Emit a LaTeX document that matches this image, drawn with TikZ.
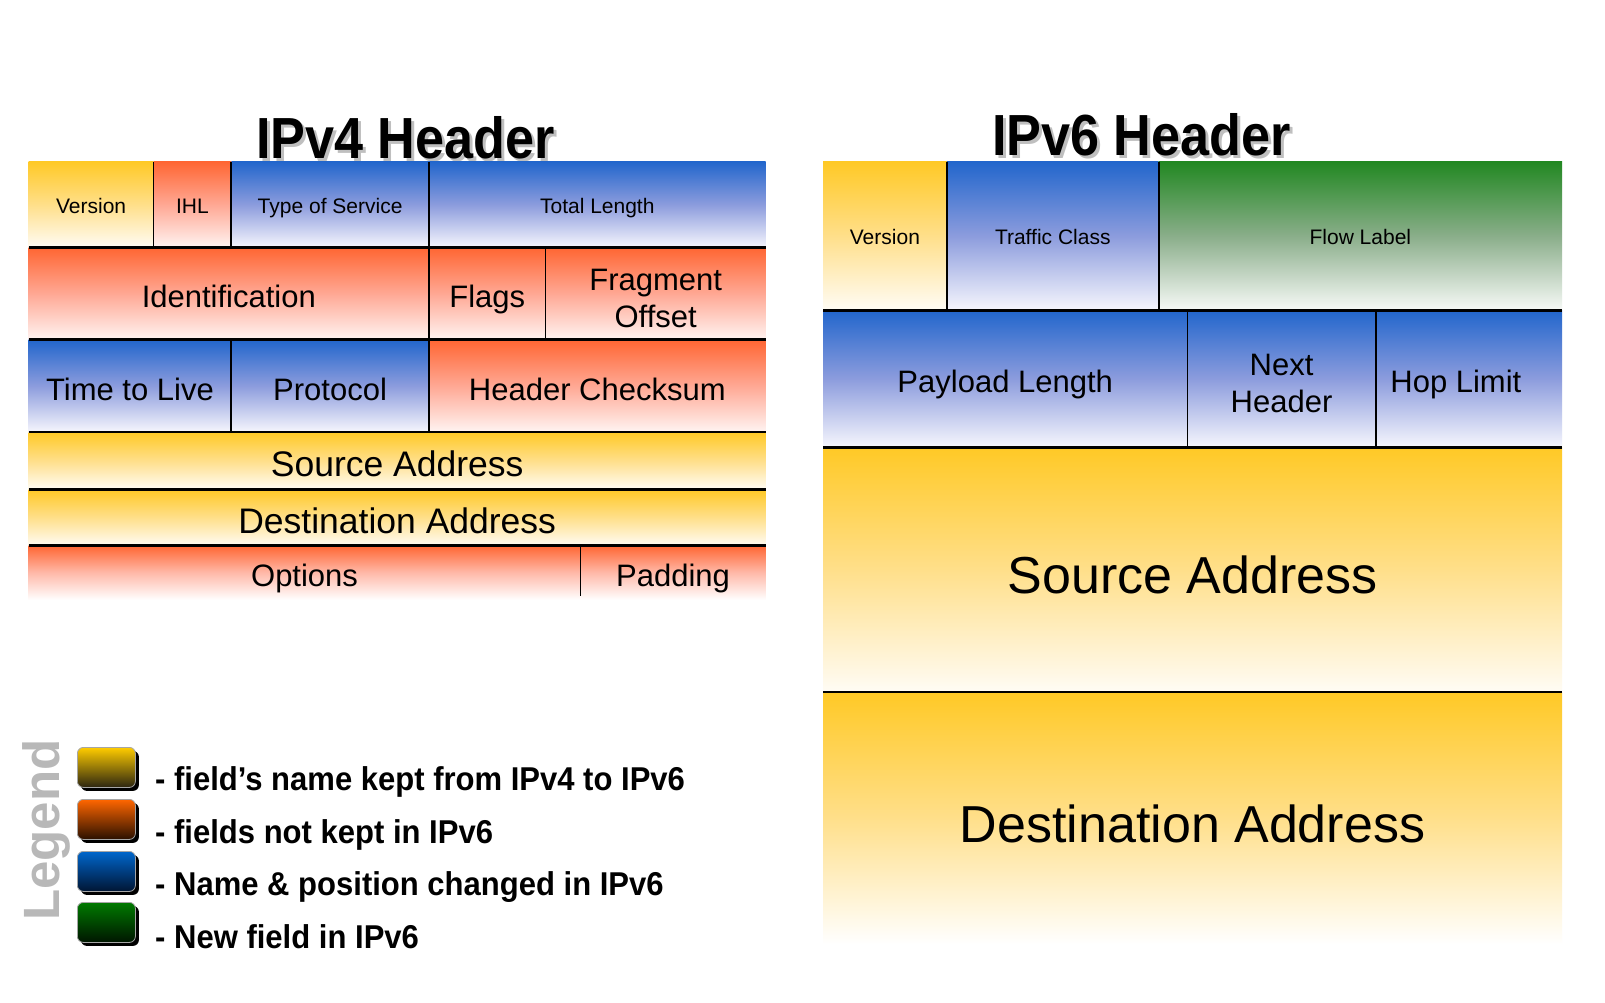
\documentclass[tikz,border=0pt]{standalone}
\usepackage{fontspec}
\setmainfont{Liberation Sans}
\newfontfamily\titlefont[FakeStretch=0.9]{Liberation Sans}
\newfontfamily\legfont[FakeStretch=0.94]{Liberation Sans}
\usetikzlibrary{calc,shadows}
\newcommand\fszA{\fontsize{21}{25}\selectfont}
\newcommand\fszB{\fontsize{31}{37.5}\selectfont}
\newcommand\fszC{\fontsize{35.5}{40}\selectfont}
\newcommand\fszD{\fontsize{52}{60}\selectfont}
\newcommand\tallstrut{\rule{0pt}{0.98em}}
\definecolor{goldT}{HTML}{FFC926}
\definecolor{goldM}{HTML}{FFDF8A}
\definecolor{goldB}{HTML}{FFFCF5}
\definecolor{orT}{HTML}{FF6633}
\definecolor{orM}{HTML}{FFA894}
\definecolor{orB}{HTML}{FFF4F2}
\definecolor{blT}{HTML}{2266CC}
\definecolor{blM}{HTML}{8C9CDD}
\definecolor{blB}{HTML}{F6F6FD}
\definecolor{grT}{HTML}{228822}
\definecolor{grM}{HTML}{8AAE8A}
\definecolor{grB}{HTML}{F7F9F7}
\definecolor{legendgray}{HTML}{B8B8B8}
\definecolor{lgYT}{HTML}{FFCC00}
\definecolor{lgYB}{HTML}{2B2510}
\definecolor{lgOT}{HTML}{FF6600}
\definecolor{lgOB}{HTML}{2A1000}
\definecolor{lgBT}{HTML}{0066CC}
\definecolor{lgBB}{HTML}{001533}
\definecolor{lgGT}{HTML}{007A00}
\definecolor{lgGB}{HTML}{001500}
\begin{document}
\begin{tikzpicture}[x=1pt,y=-1pt,
  cell/.style={inner sep=0pt, outer sep=0pt, anchor=north west, align=center, text=black},
  fA/.style={font=\fszA, text height=17pt, text depth=0pt},
  fB/.style={font=\fszB, text height=28.2pt, text depth=0pt},
  fBtwo/.style={font=\fszB},
  fC/.style={font=\fszC, text height=31.4pt, text depth=0pt},
  fD/.style={font=\fszD, text height=48.2pt, text depth=0pt},
  gold/.style={top color=goldT, bottom color=goldB, middle color=goldM},
  orng/.style={top color=orT, bottom color=orB, middle color=orM},
  blu/.style={top color=blT, bottom color=blB, middle color=blM},
  grn/.style={top color=grT, bottom color=grB, middle color=grM},
  rowline/.style={line width=2.8pt, black},
  colline/.style={line width=1.7pt, black},
  titletext/.style={anchor=base, inner sep=0pt, font=\titlefont\bfseries\fontsize{58}{60}\selectfont},
  legbox/.style={inner sep=0pt, anchor=north west, rounded corners=6pt, draw=gray!70, line width=0.8pt,
     minimum width=58pt, minimum height=40pt,
     drop shadow={shadow xshift=3.5pt, shadow yshift=-3.5pt, fill=black, opacity=1}},
  legtext/.style={anchor=base west, inner sep=0pt, font=\legfont\bfseries\fontsize{33}{36}\selectfont}
]
\useasboundingbox[fill=white] (0,0) rectangle (1605,1002);

% ---------- titles ----------
\node[titletext, text=gray!50] (t4s) at (408.5,161.5) {IPv4 Header};
\node[titletext] (t4) at (405.5,158.5) {IPv4 Header};
\node[titletext, text=gray!50] (t6s) at (1144.5,158.5) {IPv6 Header};
\node[titletext] (t6) at (1141.5,155.5) {IPv6 Header};

% ---------- IPv4 header ----------
\node[cell,gold,fA,minimum width=124.8pt,minimum height=86pt] (ver) at (28.7,161.7) {Version};
\node[cell,orng,fA,minimum width=77.8pt,minimum height=86pt] (ihl) at (153.5,161.7) {IHL};
\node[cell,blu,fA,minimum width=197.6pt,minimum height=86pt] (tos) at (231.3,161.7) {Type of Service};
\node[cell,blu,fA,minimum width=336.8pt,minimum height=86pt] (tl) at (428.9,161.7) {Total Length};

\node[cell,orng,fB,minimum width=400.2pt,minimum height=92.1pt] (id) at (28.7,247.7) {Identification};
\node[cell,orng,fB,minimum width=116.7pt,minimum height=92.1pt] (flg) at (428.9,247.7) {Flags};
\node[cell,orng,fBtwo,minimum width=220.1pt,minimum height=92.1pt] (fo) at (545.6,247.7) {\tallstrut Fragment\\Offset};

\node[cell,blu,fB,minimum width=202.6pt,minimum height=92.2pt] (ttl) at (28.7,339.8) {Time to Live};
\node[cell,blu,fB,minimum width=197.6pt,minimum height=92.2pt] (pro) at (231.3,339.8) {Protocol};
\node[cell,orng,fB,minimum width=336.8pt,minimum height=92.2pt] (hc) at (428.9,339.8) {Header Checksum};

\node[cell,gold,fC,minimum width=737pt,minimum height=57.3pt] (sa4) at (28.7,432) {Source Address};
\node[cell,gold,fC,minimum width=737pt,minimum height=56.3pt] (da4) at (28.7,489.3) {Destination Address};

\node[cell,fB,top color=orT,bottom color=white,middle color=orM!80!white,minimum width=551.7pt,minimum height=54.4pt] (opt) at (28.7,545.6) {Options};
\node[cell,fB,top color=orT,bottom color=white,middle color=orM!80!white,minimum width=185.3pt,minimum height=54.4pt] (pad) at (580.4,545.6) {Padding};

% IPv4 separators
\draw[colline] (ver.north east) -- (ver.south east);
\draw[colline] (ihl.north east) -- (ihl.south east);
\draw[colline] (tos.north east) -- (tos.south east);
\draw[colline] (id.north east) -- (id.south east);
\draw[colline] (flg.north east) -- (flg.south east);
\draw[colline] (ttl.north east) -- (ttl.south east);
\draw[colline] (pro.north east) -- (pro.south east);
\draw[colline] (opt.north east) -- ($(opt.south east)+(0,-4)$);
\draw[rowline] (ver.south west) -- (tl.south east);
\draw[rowline] (id.south west) -- (fo.south east);
\draw[rowline] (ttl.south west) -- (hc.south east);
\draw[rowline] (sa4.south west) -- (sa4.south east);
\draw[rowline] (da4.south west) -- (da4.south east);

% ---------- IPv6 header ----------
\node[cell,gold,fA,minimum width=123.8pt,minimum height=148.5pt] (v6ver) at (823,161.7) {Version};
\node[cell,blu,fA,minimum width=211.9pt,minimum height=148.5pt] (tc) at (946.8,161.7) {Traffic Class};
\node[cell,grn,fA,minimum width=403.3pt,minimum height=148.5pt] (fl) at (1158.7,161.7) {Flow Label};

\node[cell,blu,fB,minimum width=364.4pt,minimum height=137.1pt] (pl) at (823,310.2) {Payload Length};
\node[cell,blu,fBtwo,minimum width=188.3pt,minimum height=137.1pt] (nh) at (1187.4,310.2) {\tallstrut Next\\Header};
\node[cell,blu,fB,minimum width=186.3pt,minimum height=137.1pt] (hl) at (1375.7,310.2) {Hop Limit\hspace*{26pt}};

\node[cell,gold,fD,minimum width=739pt,minimum height=244.7pt] (sa6) at (823,447.3) {Source Address};
\node[cell,fD,top color=goldT,bottom color=white,middle color=goldM,minimum width=739pt,minimum height=252pt] (da6) at (823,692) {Destination Address};

% IPv6 separators
\draw[colline] (v6ver.north east) -- (v6ver.south east);
\draw[colline] (tc.north east) -- (tc.south east);
\draw[colline] (pl.north east) -- (pl.south east);
\draw[colline] (nh.north east) -- (nh.south east);
\draw[rowline] (v6ver.south west) -- (fl.south east);
\draw[rowline] (pl.south west) -- (hl.south east);
\draw[rowline] (sa6.south west) -- (sa6.south east);

% ---------- legend ----------
\node[rotate=90, inner sep=0pt, text=legendgray, font=\bfseries\fontsize{51}{53}\selectfont] (leg) at (46,830) {Legend};

\node[legbox, top color=lgYT, bottom color=lgYB] (lg1) at (77,747) {};
\node[legbox, top color=lgOT, bottom color=lgOB] (lg2) at (77,799) {};
\node[legbox, top color=lgBT, bottom color=lgBB] (lg3) at (77,851) {};
\node[legbox, top color=lgGT, bottom color=lgGB] (lg4) at (77,902) {};

\node[legtext] (lt1) at (155,790) {- field’s name kept from IPv4 to IPv6};
\node[legtext] (lt2) at (155,843.5) {- fields not kept in IPv6};
\node[legtext] (lt3) at (155,895.5) {- Name \& position changed in IPv6};
\node[legtext] (lt4) at (155,948) {- New field in IPv6};
\end{tikzpicture}
\end{document}
